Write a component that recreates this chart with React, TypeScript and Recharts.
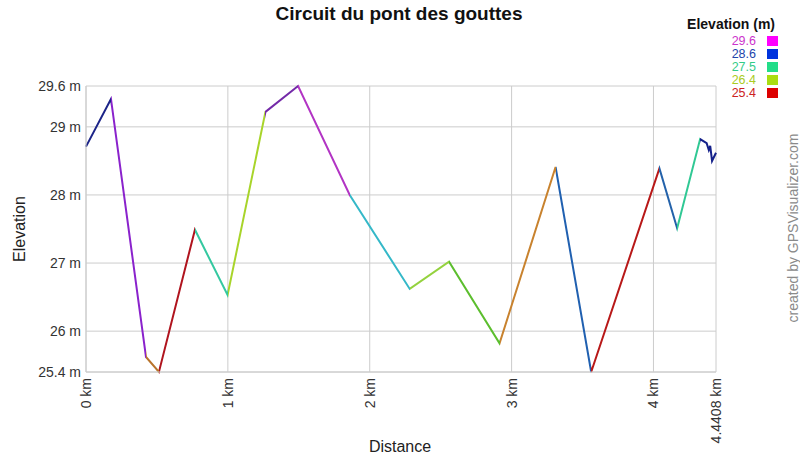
import { CartesianGrid, Line, LineChart, XAxis, YAxis } from 'recharts';

// track profile
const distKm = [
  0, 0.176, 0.423, 0.514, 0.768, 0.998, 1.265, 1.495, 1.859, 2.282, 2.559, 2.915, 3.31, 3.561,
  4.042, 4.167, 4.329, 4.375, 4.39, 4.4, 4.413, 4.4408,
];
const elevM = [
  28.71, 29.41, 25.62, 25.4, 27.49, 26.53, 29.22, 29.6, 28.0, 26.62, 27.02, 25.82, 28.41, 25.4,
  28.39, 27.51, 28.82, 28.76, 28.66, 28.72, 28.5, 28.62,
];

const xTicks = [0, 1, 2, 3, 4, 4.4408];
const yTicks = [25.4, 26, 27, 28, 29, 29.6];

const legendValues = ['29.6', '28.6', '27.5', '26.4', '25.4'];

// colours
const segColors = [
  '#1c2488', '#8a22cc', '#b8742c', '#b0141e', '#34c8a0', '#a8d42a', '#742aa8', '#b234c4',
  '#34b8c8', '#94d23e', '#5cbe2e', '#c8822e', '#2060b0', '#b81818', '#2462aa', '#30c894',
  '#14208a', '#14208a', '#14208a', '#14208a', '#14208a',
];
const legendTextColors = ['#cc33cc', '#2244aa', '#33cc88', '#aacc22', '#cc2222'];
const legendBoxColors = ['#ff00ff', '#0033dd', '#22dd88', '#aadd11', '#dd0000'];

const FONT = '"Liberation Sans", Arial, sans-serif';
const maxDist = distKm[distKm.length - 1];

const data = distKm.map((d, i) => ({ dist: d, elev: elevM[i] }));

function XTick({ x, y, payload }: any) {
  return (
    <text
      transform={`translate(${x + 5},${y + 6}) rotate(-90)`}
      textAnchor="end"
      fontSize={14}
      fontFamily={FONT}
      fill="#333"
    >
      {`${payload.value} km`}
    </text>
  );
}

export default function App() {
  return (
    <div style={{ position: 'absolute', left: 0, top: 0, width: 800, height: 457, background: '#fff', fontFamily: FONT }}>
      <LineChart width={800} height={457} data={data} margin={{ top: 86, right: 84, bottom: 0, left: 0 }}>
        <defs>
          <linearGradient id="segGrad" x1="0" y1="0" x2="1" y2="0">
            {segColors.slice(0, distKm.length - 1).flatMap((c, i) => [
              <stop key={`a${i}`} offset={distKm[i] / maxDist} stopColor={c} />,
              <stop key={`b${i}`} offset={distKm[i + 1] / maxDist} stopColor={c} />,
            ])}
          </linearGradient>
        </defs>
        <CartesianGrid stroke="#cccccc" />
        <XAxis
          dataKey="dist"
          type="number"
          domain={[0, maxDist]}
          ticks={xTicks}
          interval={0}
          height={85}
          tickLine={false}
          tickSize={0}
          tickMargin={0}
          axisLine={{ stroke: '#cccccc' }}
          tick={<XTick />}
        />
        <YAxis
          type="number"
          domain={[25.4, 29.6]}
          ticks={yTicks}
          interval={0}
          width={86}
          tickLine={false}
          tickSize={0}
          tickMargin={5}
          axisLine={{ stroke: '#cccccc' }}
          tickFormatter={(v: number) => `${v} m`}
          tick={{ fontSize: 14, fontFamily: FONT, fill: '#333' }}
        />
        <Line
          dataKey="elev"
          type="linear"
          stroke="url(#segGrad)"
          strokeWidth={2}
          dot={false}
          activeDot={false}
          isAnimationActive={false}
        />
      </LineChart>

      <div style={{ position: 'absolute', left: 0, width: 798, top: 3, textAlign: 'center', fontSize: 19, fontWeight: 'bold', color: '#111' }}>
        Circuit du pont des gouttes
      </div>
      <div style={{ position: 'absolute', left: 0, width: 800, top: 438, textAlign: 'center', fontSize: 16, color: '#222' }}>
        Distance
      </div>
      <div
        style={{
          position: 'absolute', left: 20, top: 229, fontSize: 16, color: '#222', whiteSpace: 'nowrap',
          transform: 'translate(-50%, -50%) rotate(-90deg)',
        }}
      >
        Elevation
      </div>
      <div
        style={{
          position: 'absolute', left: 793, top: 228, fontSize: 14, color: '#8a8a8a', whiteSpace: 'nowrap',
          transform: 'translate(-50%, -50%) rotate(-90deg)',
        }}
      >
        created by GPSVisualizer.com
      </div>

      <div style={{ position: 'absolute', right: 25, top: 16, fontSize: 14, lineHeight: '16px', fontWeight: 'bold', color: '#111' }}>
        Elevation (m)
      </div>
      {legendValues.map((v, i) => (
        <div key={v}>
          <div style={{ position: 'absolute', right: 44, top: 35 + i * 13, fontSize: 12.5, lineHeight: '12px', color: legendTextColors[i] }}>
            {v}
          </div>
          <div style={{ position: 'absolute', left: 767, top: 36 + i * 13, width: 11, height: 10, background: legendBoxColors[i] }} />
        </div>
      ))}
    </div>
  );
}
